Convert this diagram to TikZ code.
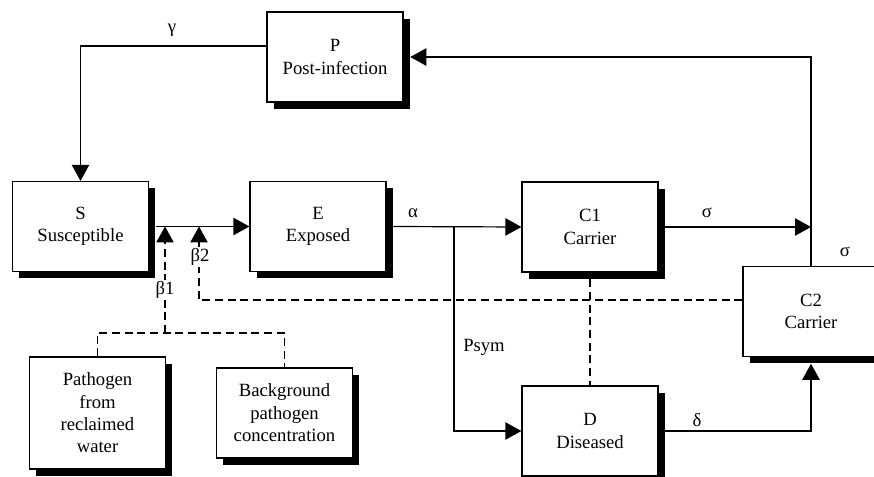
\documentclass[tikz,border=0pt]{standalone}
\usepackage{fontspec}
\setmainfont{Liberation Serif}
\usetikzlibrary{arrows.meta,shadows}

\tikzset{
	box/.style={draw,fill=white,line width=0.9pt,minimum width=102pt,minimum height=67.5pt,inner sep=0pt,align=center,
		drop shadow={shadow xshift=5pt,shadow yshift=-5pt,fill=black,opacity=1}},
	flow/.style={line width=0.9pt,-{Triangle[length=12pt,width=13pt]}},
	dashlink/.style={line width=0.9pt,dash pattern=on 6pt off 3.5pt},
	rate/.style={inner sep=1pt}
}

\begin{document}
\begin{tikzpicture}[x=0.75pt,y=-0.75pt,font=\fontsize{14}{16.8}\selectfont]
	\clip (0,0) rectangle (874,477);
	% compartments
	\node[box] (P) at (335,57) {P\\Post-infection};
	\node[box] (S) at (80.5,226.5) {S\\Susceptible};
	\node[box] (E) at (318,226.5) {E\\Exposed};
	\node[box] (C1) at (590,227) {C1\\Carrier};
	\node[box] (C2) at (811,311.5) {C2\\Carrier};
	\node[box] (D) at (590,431) {D\\Diseased};

	% sources
	\node[box,minimum height=84pt] (Path) at (97.5,413) {Pathogen\\from\\reclaimed\\water};
	\node[box] (Bg) at (284.5,413) {Background\\pathogen\\concentration};

	% junctions
	\coordinate (jA) at (454,227);
	\coordinate (jB) at (165,333);
	\coordinate (jC) at (C2.north |- C1.east);

	% flows
	\draw [flow] ([yshift=8.25pt]P.west) -| (S.north);
	\draw [flow] (C2.north) |- ([xshift=5pt]P.east);
	\draw [flow] ([xshift=5pt]S.east) -- (E.west);
	\draw [flow] ([xshift=5pt]E.east) -- (C1.west);
	\draw [flow] (jA) |- (D.west);
	\draw [flow] ([xshift=5pt]C1.east) -- (jC);
	\draw [flow] ([xshift=5pt]D.east) -| ([yshift=-5pt]C2.south);

	% infection pressure
	\draw [dashlink] (Path.north) |- (jB) -| (Bg.north);
	\draw [dashlink,-{Triangle[length=12pt,width=13pt]}] (jB) -- (165,226.5);
	\draw [dashlink,-{Triangle[length=12pt,width=13pt]}] ([yshift=8.6pt]C2.west) -| (199,226.5);
	\draw [dashlink] ([yshift=-5pt]C1.south) -- (D.north);

	% rates
	\node[rate] (g) at (172,30) {γ};
	\node[rate] (a) at (413,213) {α};
	\node[rate] (s1) at (707,213) {σ};
	\node[rate] (s2) at (845,252) {σ};
	\node[rate] (d) at (697,420) {δ};
	\node[rate] (ps) at (484,347) {Psym};
	\node[rate,fill=white] (b1) at (165,290) {β1};
	\node[rate,fill=white] (b2) at (200,257) {β2};
\end{tikzpicture}
\end{document}
